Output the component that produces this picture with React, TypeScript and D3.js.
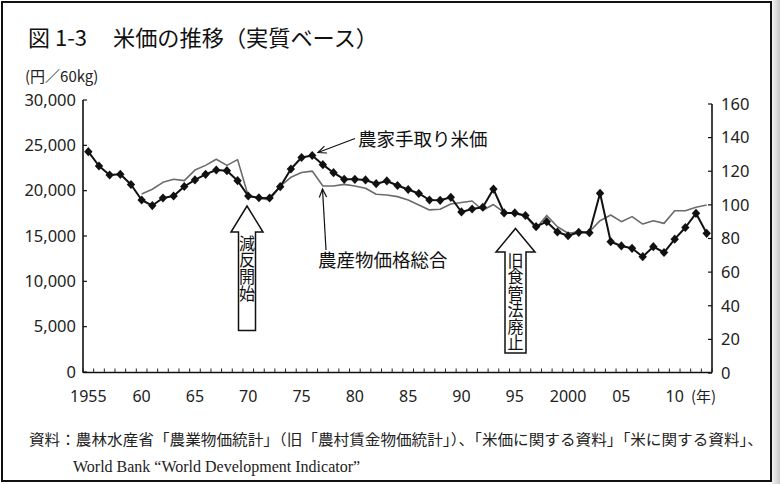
import React from 'react';
import * as d3 from 'd3';

const years = [
  1955, 1956, 1957, 1958, 1959, 1960, 1961, 1962, 1963, 1964,
  1965, 1966, 1967, 1968, 1969, 1970, 1971, 1972, 1973, 1974,
  1975, 1976, 1977, 1978, 1979, 1980, 1981, 1982, 1983, 1984,
  1985, 1986, 1987, 1988, 1989, 1990, 1991, 1992, 1993, 1994,
  1995, 1996, 1997, 1998, 1999, 2000, 2001, 2002, 2003, 2004,
  2005, 2006, 2007, 2008, 2009, 2010, 2011, 2012, 2013,
];

// 農家手取り米価 (円/60kg, left axis)
const ricePrice = [
  24300, 22720, 21730, 21800, 20680, 18970, 18360, 19190, 19410, 20460,
  21180, 21800, 22280, 22200, 21100, 19410, 19220, 19190, 20440, 22390,
  23660, 23880, 22870, 21980, 21250, 21250, 21180, 20770, 21070, 20570,
  20130, 19690, 18970, 18940, 19270, 17650, 17980, 18170, 20180, 17540,
  17540, 17260, 16030, 16580, 15440, 15030, 15410, 15370, 19710, 14370,
  13900, 13640, 12720, 13820, 13180, 14650, 15940, 17500, 15300,
];

// 農産物価格総合 (index, right axis)
const agriIndex: (number | null)[] = [
  null, null, null, null, null, 106.5, 109.3, 113.4, 115.2, 114.4,
  120.7, 123.5, 127.1, 123.5, 126.9, 105.3, 103.9, 102.9, 111.2, 116.4,
  119.3, 120.1, 111.2, 111.2, 112.2, 111.2, 109.9, 106.3, 105.9, 104.9,
  102.9, 99.9, 97.0, 97.4, 100.5, 101.4, 102.3, 96.8, 100.2, 95.5,
  94.8, 93.4, 86.1, 93.7, 87.0, 83.1, 84.0, 84.0, 90.6, 94.0,
  90.0, 93.0, 88.6, 90.6, 89.0, 96.5, 96.5, 98.6, 99.9,
];

const leftTicks = [0, 5000, 10000, 15000, 20000, 25000, 30000];
const rightTicks = [0, 20, 40, 60, 80, 100, 120, 140, 160];
const xLabelYears = [1955, 1960, 1965, 1970, 1975, 1980, 1985, 1990, 1995, 2000, 2005, 2010];
const xLabelTexts = ['1955', '60', '65', '70', '75', '80', '85', '90', '95', '2000', '05', '10'];

const JP = "'Noto Sans CJK JP', 'Noto Sans', sans-serif";
const NUM = "'Noto Sans', 'Open Sans', sans-serif";

export default function App() {
  const x = d3.scaleLinear().domain([1954.5, 2013.5]).range([83, 712]);
  const yL = d3.scaleLinear().domain([0, 30000]).range([372, 100]);
  const yR = d3.scaleLinear().domain([0, 160]).range([373, 104]);

  const riceData = years.map((yr, i) => ({ yr, v: ricePrice[i] }));
  const agriData = years.map((yr, i) => ({ yr, v: agriIndex[i] }));

  const riceLine = d3.line<{ yr: number; v: number }>()
    .x(d => x(d.yr))
    .y(d => yL(d.v));
  const agriLine = d3.line<{ yr: number; v: number | null }>()
    .defined(d => d.v !== null)
    .x(d => x(d.yr))
    .y(d => yR(d.v as number));

  const x0 = x.range()[0];
  const x1 = x.range()[1];
  const yBase = 372.5;
  const tickYears = d3.range(0, 60).map(k => 1954.5 + k);

  const diamond = 'M0,-4.6L4.2,0L0,4.6L-4.2,0Z';

  const arrowHead = (tx: number, ty: number, fx: number, fy: number) => {
    const a = Math.atan2(fy - ty, fx - tx);
    const L = 9;
    const s = 0.42;
    return `M${tx + L * Math.cos(a + s)},${ty + L * Math.sin(a + s)}L${tx},${ty}L${tx + L * Math.cos(a - s)},${ty + L * Math.sin(a - s)}`;
  };

  const blockArrow = (cx: number, tipY: number, baseY: number, headHalf: number, shaftHalf: number, bottom: number) =>
    `M${cx},${tipY}L${cx + headHalf},${baseY}L${cx + shaftHalf},${baseY}L${cx + shaftHalf},${bottom}L${cx - shaftHalf},${bottom}L${cx - shaftHalf},${baseY}L${cx - headHalf},${baseY}Z`;

  return (
    <div style={{ position: 'absolute', left: 0, top: 0 }}>
      <svg width={780} height={484} viewBox="0 0 780 484" style={{ display: 'block', background: '#fff' }}>
        <defs>
          <linearGradient id="edge" x1="0" x2="1" y1="0" y2="0">
            <stop offset="0" stopColor="#f2f2f2" />
            <stop offset="1" stopColor="#c9c9c9" />
          </linearGradient>
        </defs>
        <rect x={0} y={0} width={780} height={484} fill="#fff" />
        <rect x={772} y={0} width={8} height={484} fill="url(#edge)" />
        <rect x={2} y={2} width={769} height={479} fill="none" stroke="#111" strokeWidth={2} />

        {/* Title */}
        <text x={28} y={46} fontFamily={JP} fontSize={22} fontWeight={400} fill="#111">図 1-3</text>
        <text x={113} y={46} fontFamily={JP} fontSize={22} fontWeight={400} fill="#111" textLength={265} lengthAdjust="spacingAndGlyphs">米価の推移（実質ベース）</text>
        <text x={25} y={82} fontFamily={JP} fontSize={15} fill="#222">(円／60kg)</text>

        {/* Axes */}
        <line x1={x0} x2={x0} y1={yL(30000)} y2={yBase} stroke="#111" strokeWidth={1.6} />
        <line x1={x1} x2={x1} y1={yR(160)} y2={yBase} stroke="#111" strokeWidth={1.6} />
        <line x1={x0} x2={x1} y1={yBase} y2={yBase} stroke="#111" strokeWidth={1.6} />
        {tickYears.map(t => (
          <line key={'xt' + t} x1={x(t)} x2={x(t)} y1={yBase} y2={yBase - 4} stroke="#222" strokeWidth={1} />
        ))}
        {leftTicks.map(t => (
          <g key={'lt' + t}>
            <line x1={x0} x2={x0 + 4} y1={yL(t)} y2={yL(t)} stroke="#111" strokeWidth={1.2} />
            <text x={x0 - 7} y={yL(t)} dy="0.35em" textAnchor="end" fontFamily={NUM} fontSize={16.5} fill="#222">
              {d3.format(',')(t)}
            </text>
          </g>
        ))}
        {rightTicks.map(t => (
          <g key={'rt' + t}>
            <line x1={x1 - 4} x2={x1} y1={yR(t)} y2={yR(t)} stroke="#111" strokeWidth={1.2} />
            <text x={x1 + 9} y={yR(t)} dy="0.35em" textAnchor="start" fontFamily={NUM} fontSize={16.5} fill="#222">
              {t}
            </text>
          </g>
        ))}
        {xLabelYears.map((yr, i) => (
          <text key={'xl' + yr} x={x(yr)} y={402} textAnchor="middle" fontFamily={NUM} fontSize={16} fill="#222">
            {xLabelTexts[i]}
          </text>
        ))}
        <text x={691} y={402} fontFamily={JP} fontSize={15} fill="#222">(年)</text>

        {/* Series */}
        <path d={agriLine(agriData) || ''} fill="none" stroke="#6b6b6b" strokeWidth={1.6} strokeLinejoin="round" />
        <path d={riceLine(riceData) || ''} fill="none" stroke="#111" strokeWidth={2} strokeLinejoin="round" />
        {riceData.map(d => (
          <path key={'m' + d.yr} d={diamond} transform={`translate(${x(d.yr)},${yL(d.v)})`} fill="#111" />
        ))}

        {/* Series labels */}
        <line x1={355} y1={138.5} x2={318} y2={152.5} stroke="#111" strokeWidth={1.2} />
        <path d={arrowHead(318, 152.5, 355, 138.5)} fill="none" stroke="#111" strokeWidth={1.2} />
        <text x={358} y={140} dy="0.35em" fontFamily={JP} fontSize={18.5} fill="#111">農家手取り米価</text>

        <line x1={326} y1={250} x2={322.5} y2={189} stroke="#111" strokeWidth={1.2} />
        <path d={arrowHead(322.5, 189, 326, 250)} fill="none" stroke="#111" strokeWidth={1.2} />
        <text x={318} y={261} dy="0.35em" fontFamily={JP} fontSize={18.5} fill="#111">農産物価格総合</text>

        {/* Block arrows */}
        <path d={blockArrow(247, 206, 232, 16, 8.5, 330.5)} fill="#fff" stroke="#111" strokeWidth={1.5} />
        <text x={247} y={235} fontFamily={JP} fontSize={16} fill="#111"
          style={{ writingMode: 'vertical-rl' }} textLength={67} lengthAdjust="spacingAndGlyphs">減反開始</text>
        <path d={blockArrow(515.5, 228.5, 252, 19.5, 10.5, 353)} fill="#fff" stroke="#111" strokeWidth={1.5} />
        <text x={515.5} y={252} fontFamily={JP} fontSize={16} fill="#111"
          style={{ writingMode: 'vertical-rl' }} textLength={99} lengthAdjust="spacingAndGlyphs">旧食管法廃止</text>

        {/* Source */}
        <text x={29} y={440} dy="0.35em" fontFamily={JP} fontSize={15} fill="#222" textLength={734} lengthAdjust="spacingAndGlyphs">
          資料：農林水産省「農業物価統計」（旧「農村賃金物価統計」）、「米価に関する資料」「米に関する資料」、
        </text>
        <text x={73} y={466} dy="0.35em" fontFamily="'Liberation Serif', serif" fontSize={16} fill="#222">
          World Bank “World Development Indicator”
        </text>
      </svg>
    </div>
  );
}
